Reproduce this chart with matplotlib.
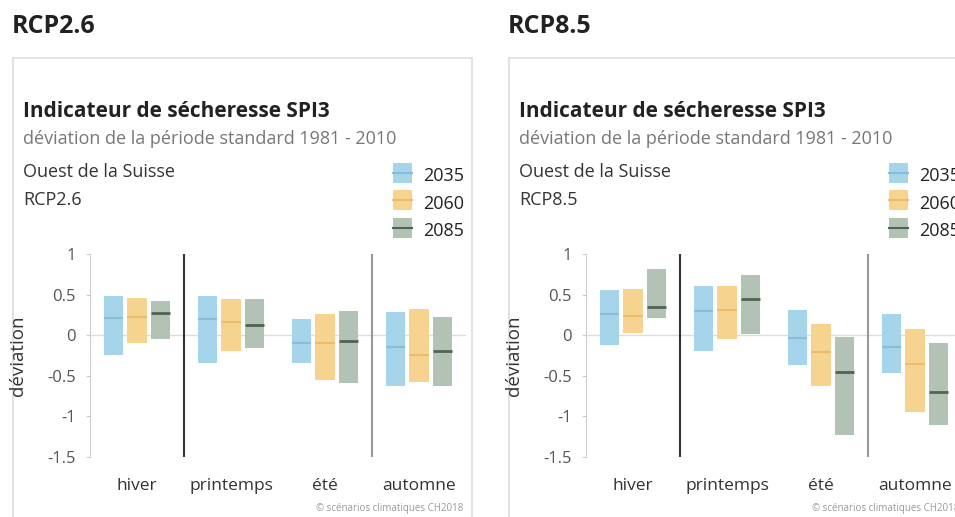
import numpy as np
import matplotlib
matplotlib.use('Agg')
import matplotlib.pyplot as plt
from matplotlib.patches import Rectangle
from matplotlib.lines import Line2D

plt.rcParams['font.family'] = ['Open Sans', 'DejaVu Sans']

seasons = ['hiver', 'printemps', 'été', 'automne']
years = ['2035', '2060', '2085']

# rows: 2035, 2060, 2085 ; columns: hiver, printemps, été, automne
rcp26_low = [[-0.24, -0.34, -0.34, -0.62],
             [-0.09, -0.19, -0.55, -0.58],
             [-0.05, -0.16, -0.59, -0.63]]
rcp26_med = [[0.21, 0.20, -0.10, -0.15],
             [0.23, 0.16, -0.10, -0.24],
             [0.27, 0.12, -0.07, -0.20]]
rcp26_high = [[0.48, 0.48, 0.20, 0.29],
              [0.46, 0.44, 0.26, 0.32],
              [0.42, 0.45, 0.30, 0.22]]

rcp85_low = [[-0.12, -0.19, -0.37, -0.47],
             [0.03, -0.05, -0.62, -0.94],
             [0.21, 0.01, -1.23, -1.11]]
rcp85_med = [[0.26, 0.30, -0.04, -0.15],
             [0.24, 0.31, -0.21, -0.35],
             [0.35, 0.44, -0.45, -0.70]]
rcp85_high = [[0.56, 0.60, 0.31, 0.26],
              [0.57, 0.60, 0.14, 0.08],
              [0.82, 0.74, -0.02, -0.10]]

colors = ['#a6d4ea', '#f6d48f', '#b2c2b5']
med_colors = ['#86bfdc', '#e9bc70', '#4f6554']

W, H = 955, 517
fig = plt.figure(figsize=(W / 100, H / 100), dpi=100)


def fx(px):
    return px / W


def fy(py):
    return 1 - py / H


def draw_panel(dx, name, low, med, high):
    # outer title and box
    fig.text(fx(12 + dx), fy(33), name, fontsize=18, fontweight='bold',
             color='#222222', va='baseline')
    fig.patches.append(Rectangle((fx(13 + dx), fy(530)), fx(459), fy(58) - fy(530),
                                 transform=fig.transFigure, facecolor='none',
                                 edgecolor='#dddddd', lw=1.2, zorder=-1))
    fig.text(fx(23 + dx), fy(117), 'Indicateur de sécheresse SPI3', fontsize=15,
             fontweight='bold', color='#222222', va='baseline')
    fig.text(fx(23 + dx), fy(144), 'déviation de la période standard 1981 - 2010',
             fontsize=13, color='#777777', va='baseline')
    fig.text(fx(23 + dx), fy(177), 'Ouest de la Suisse', fontsize=13,
             color='#333333', va='baseline')
    fig.text(fx(23 + dx), fy(205), name, fontsize=13, color='#333333', va='baseline')

    # legend
    for i, yr in enumerate(years):
        cy = 173 + i * 27.5
        fig.patches.append(Rectangle((fx(393 + dx), fy(cy + 10)), fx(19), fy(cy - 10) - fy(cy + 10),
                                     transform=fig.transFigure, facecolor=colors[i],
                                     edgecolor='none'))
        fig.lines.append(Line2D([fx(393 + dx), fx(412 + dx)], [fy(cy), fy(cy)],
                                transform=fig.transFigure, color=med_colors[i], lw=1.5))
        fig.text(fx(423 + dx), fy(cy + 8), yr, fontsize=13, color='#222222', va='baseline')

    ax = fig.add_axes([fx(90 + dx), fy(457), fx(376), fy(254) - fy(457)])
    ax.set_facecolor('none')
    x = np.arange(len(seasons))
    offsets = [-0.25, 0, 0.25]
    w = 0.21
    for i in range(len(years)):
        lo = np.array(low[i])
        hi = np.array(high[i])
        ax.bar(x + offsets[i], hi - lo, bottom=lo, width=w, color=colors[i],
               edgecolor='none', zorder=2)
        ax.hlines(med[i], x + offsets[i] - w / 2, x + offsets[i] + w / 2,
                  color=med_colors[i], lw=2 if i == 2 else 1.5, zorder=3)

    ax.axhline(0, color='#dddddd', lw=1, zorder=1)
    ax.axvline(0.5, color='#333333', lw=1.5, zorder=1)
    ax.axvline(2.5, color='#999999', lw=1.5, zorder=1)

    ax.set_xlim(-0.5, 3.5)
    ax.set_ylim(-1.5, 1)
    ax.set_yticks([1, 0.5, 0, -0.5, -1, -1.5])
    ax.set_yticklabels(['1', '0.5', '0', '-0.5', '-1', '-1.5'])
    ax.set_xticks(x)
    ax.set_xticklabels(seasons)
    for s in ['top', 'right', 'bottom']:
        ax.spines[s].set_visible(False)
    ax.spines['left'].set_color('#cccccc')
    ax.tick_params(axis='y', length=3, color='#cccccc', labelsize=12,
                   labelcolor='#555555', pad=7)
    ax.tick_params(axis='x', length=0, labelsize=12.5, labelcolor='#333333', pad=15)
    ax.set_ylabel('déviation', fontsize=13.5, color='#333333')
    ax.yaxis.set_label_coords(-(90 - 27) / 376, 0.5)

    fig.text(fx(463 + dx), fy(511), '© scénarios climatiques CH2018', fontsize=7,
             color='#999999', ha='right', va='baseline')


draw_panel(0, 'RCP2.6', rcp26_low, rcp26_med, rcp26_high)
draw_panel(496, 'RCP8.5', rcp85_low, rcp85_med, rcp85_high)

fig.savefig('out.png', dpi=100)
